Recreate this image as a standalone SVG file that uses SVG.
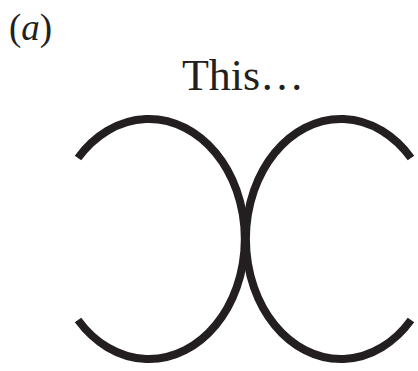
<svg xmlns="http://www.w3.org/2000/svg" width="418" height="371" viewBox="0 0 418 371">
<style>
.arc{fill:none;stroke:#231f20;stroke-width:8}
.t{font-family:"Liberation Serif",serif;fill:#231f20}
</style>
<rect width="418" height="371" fill="#fff"/>
<text class="t" x="9" y="40" font-size="37">(<tspan font-style="italic">a</tspan>)</text>
<text class="t" x="243" y="90" font-size="44" text-anchor="middle">This…</text>
<g id="left-arc"><path class="arc" d="M78,158 A96,120 0 1 1 78,320"/></g>
<g id="right-arc"><path class="arc" d="M411,158 A95,120 0 1 0 411,320"/></g>
</svg>
